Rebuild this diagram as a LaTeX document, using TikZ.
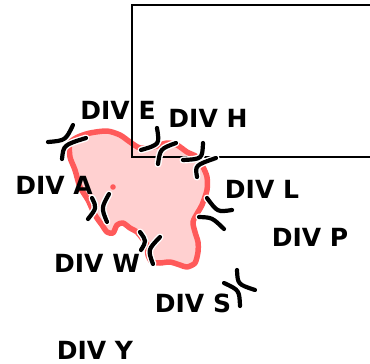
\documentclass[tikz,border=0pt]{standalone}
\usepackage{fontspec}
\setmainfont{DejaVu Sans}
\usepackage{xcolor}
\definecolor{blobfill}{RGB}{255,208,208}
\definecolor{blobline}{RGB}{255,90,90}

\begin{document}
\begin{tikzpicture}[x=1pt,y=-1pt,
  lbl/.style={font=\fontsize{25}{29}\selectfont\bfseries, inner sep=0pt},
  bnd/.style={draw=white, double=black, line width=1.4pt, double distance=4.2pt, line cap=round}]
\useasboundingbox (0,0) rectangle (370,364);
\clip (0,0) rectangle (370,364);

% the region
\draw[blobline, fill=blobfill, line width=5.5pt, line join=round] plot[smooth cycle, tension=0.45] coordinates {
  (70,143) (78,137) (90,133) (107,131) (120,135) (130,142) (140,148) (153,147)
  (167,143) (177,145) (187,152) (197,157) (203,167) (207,177) (207,190) (202,205)
  (198,212) (193,222) (195,232) (198,242) (198,252) (195,263) (187,267) (180,265)
  (170,262) (160,263) (152,262) (148,255) (147,245) (142,238) (137,232) (130,228)
  (123,223) (117,225) (113,233) (107,232) (102,225) (95,215) (88,200) (80,187)
  (75,170) (70,157)};

\fill[blobline] (113,187) circle (2.8);

% the box
\draw[line width=2.8pt] (132,5) rectangle (380,157);

% boundary marks
\draw[bnd] (48,142) .. controls (65.5,140.5) .. (73,125);
\draw[bnd] (62,159) .. controls (63.5,145) .. (86,138);

\draw[bnd] (92,198) .. controls (96.8,207.8) .. (88,219);
\draw[bnd] (109,194) .. controls (101.2,208) .. (107,222);

\draw[bnd] (140,232) .. controls (146.5,241) .. (141,250);
\draw[bnd] (160,237) .. controls (147.7,249.8) .. (153,264);

\draw[bnd] (157,128) .. controls (159.7,144.5) .. (141,150);
\draw[bnd] (176,143) .. controls (160.2,148.8) .. (158,164);

\draw[bnd] (203,143) .. controls (202.3,159) .. (183,160);
\draw[bnd] (216,158) .. controls (195,165.3) .. (197,177);

\draw[bnd] (207,198) .. controls (217.5,212.2) .. (232,210);
\draw[bnd] (199,217) .. controls (212.2,217.5) .. (224,229);

\draw[bnd] (224,283) .. controls (239.3,290.2) .. (240,306);
\draw[bnd] (237,270) .. controls (237.7,284.3) .. (255,290);

% labels
\node[lbl] (divE) at (118,110) {DIV E};
\node[lbl] (divH) at (208,118) {DIV H};
\node[lbl] (divA) at (54,185) {DIV A};
\node[lbl] (divL) at (262,189) {DIV L};
\node[lbl] (divP) at (310,237) {DIV P};
\node[lbl] (divW) at (97,263) {DIV W};
\node[lbl] (divS) at (193,303) {DIV S};
\node[lbl] (divY) at (95,350) {DIV Y};

\end{tikzpicture}
\end{document}
